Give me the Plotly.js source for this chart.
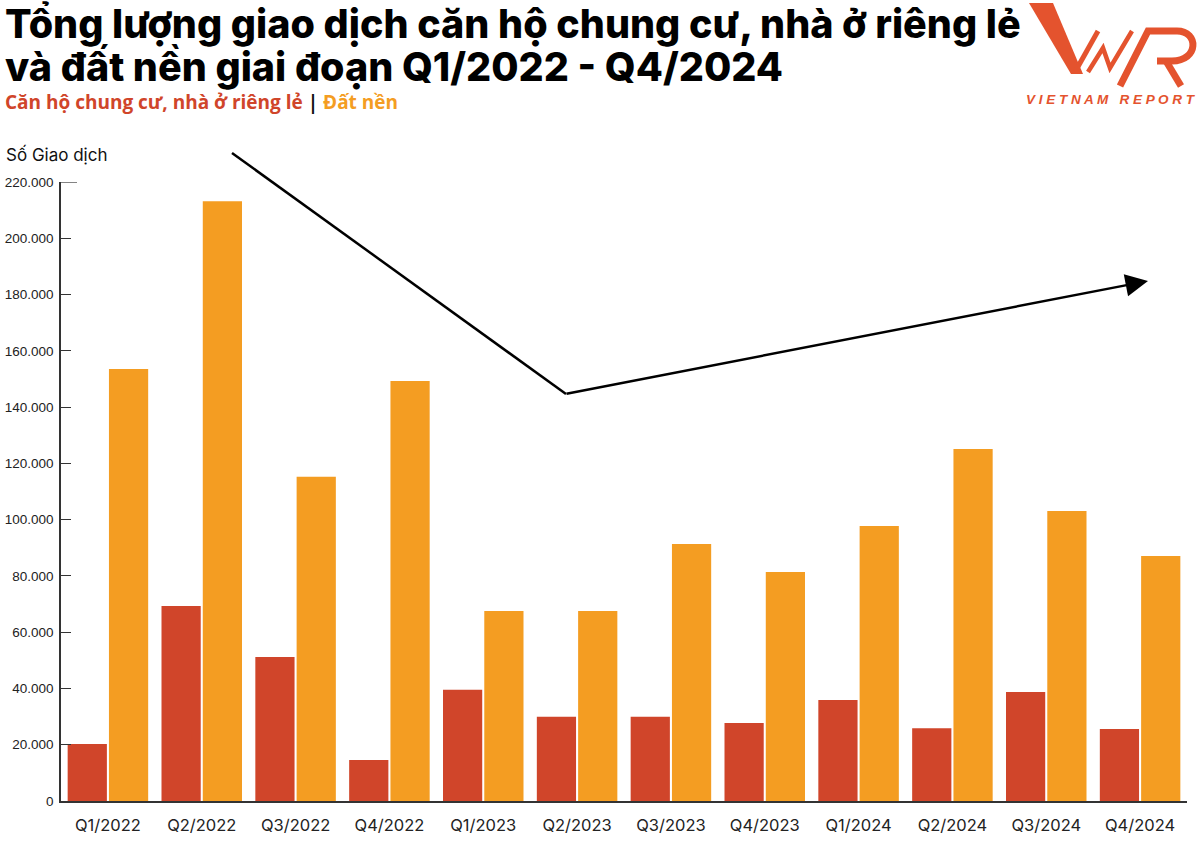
<!DOCTYPE html>
<html>
<head>
<meta charset="utf-8">
<script src="https://cdn.plot.ly/plotly-3.0.1.min.js"></script>
<style>
html,body{margin:0;padding:0;background:#fff;}
#chart{width:1200px;height:848px;}
</style>
</head>
<body>
<div id="chart"></div>
<script>
const quarters = ["Q1/2022","Q2/2022","Q3/2022","Q4/2022","Q1/2023","Q2/2023","Q3/2023","Q4/2023","Q1/2024","Q2/2024","Q3/2024","Q4/2024"];
const canHo = [20300, 69300, 51200, 14600, 39500, 29900, 29900, 27700, 35900, 25900, 38700, 25600];
const datNen = [153500, 213200, 115200, 149300, 67500, 67500, 91300, 81400, 97700, 125100, 103100, 87100];
const seriesNames = ["Căn hộ chung cư, nhà ở riêng lẻ", "Đất nền"];
const yTicks = [0,20000,40000,60000,80000,100000,120000,140000,160000,180000,200000,220000];

const RED = "#D0452A", ORANGE = "#F49D22", LOGO = "#E4532E";

// plot area geometry (pixels) used only to place decorations
const M = {l:61, r:13, t:182, b:47};
const PW = 1200 - M.l - M.r, PH = 848 - M.t - M.b;
const PX = px => (px - M.l) / PW;
const PY = py => (848 - M.b - py) / PH;
const pt = p => PX(p[0]).toFixed(5) + "," + PY(p[1]).toFixed(5);
const path = pts => pts.map((p,i) => (i ? "L" : "M") + pt(p)).join(" ");

const traces = [
  {type:"bar", name:seriesNames[0], x:quarters, y:canHo, marker:{color:RED}, hoverinfo:"x+y"},
  {type:"bar", name:seriesNames[1], x:quarters, y:datNen, marker:{color:ORANGE}, hoverinfo:"x+y"}
];

const TF = "Inter, 'Open Sans', sans-serif";

const logoShapes = [
  {type:"path", xref:"paper", yref:"paper", path: path([[1029,3],[1053,3],[1083,74],[1071,74]]) + " Z",
   fillcolor:LOGO, line:{width:0}},
  {type:"path", xref:"paper", yref:"paper", path: path([[1075,72],[1098,31]]), line:{color:LOGO, width:5}},
  {type:"path", xref:"paper", yref:"paper", path: path([[1088,72],[1103,48],[1110,68],[1132,31]]), line:{color:LOGO, width:4.5}},
  {type:"path", xref:"paper", yref:"paper",
   path: path([[1120,86],[1148,31],[1177,31]]) + " C" + pt([1199,31]) + " " + pt([1199,61]) + " " + pt([1172,61]) + " L" + pt([1157,61]),
   line:{color:LOGO, width:7}},
  {type:"path", xref:"paper", yref:"paper", path: path([[1166,61],[1181,86]]), line:{color:LOGO, width:7}}
];

const layout = {
  width:1200, height:848,
  paper_bgcolor:"#fff", plot_bgcolor:"#fff",
  margin:M,
  showlegend:false,
  barmode:"group", bargap:0.12, bargroupgap:0.05,
  separators:",.",
  font:{family:TF, color:"#111"},
  xaxis:{
    type:"category", range:[-0.5, 11.5], autorange:false, showgrid:false, zeroline:false,
    showline:true, linecolor:"#333", linewidth:1.5,
    ticks:"", tickfont:{family:TF, size:16.5, color:"#222"},
    ticklabelstandoff:8
  },
  yaxis:{
    range:[0,220000], autorange:false, tickvals:yTicks, tickformat:",d",
    showgrid:false, zeroline:false,
    showline:true, linecolor:"#333", linewidth:1.5,
    ticks:"inside", ticklen:10, tickcolor:"#333", tickwidth:1.2,
    tickfont:{family:"'Liberation Sans', Arial, sans-serif", size:13.5, color:"#222"},
    ticklabelstandoff:3
  },
  annotations:[
    {xref:"paper", yref:"paper", x:PX(3), y:PY(24), xanchor:"left", yanchor:"middle", showarrow:false,
     text:"Tổng lượng giao dịch căn hộ chung cư, nhà ở riêng lẻ", font:{family:TF, size:39.5, weight:800, color:"#000"}},
    {xref:"paper", yref:"paper", x:PX(3), y:PY(67), xanchor:"left", yanchor:"middle", showarrow:false,
     text:"và đất nền giai đoạn Q1/2022 - Q4/2024", font:{family:TF, size:39.5, weight:800, color:"#000"}},
    {xref:"paper", yref:"paper", x:PX(3), y:PY(102), xanchor:"left", yanchor:"middle", showarrow:false,
     text:"<span style='color:"+RED+"'>Căn hộ chung cư, nhà ở riêng lẻ</span> <span style='color:#111'>|</span> <span style='color:"+ORANGE+"'>Đất nền</span>",
     font:{family:"'Open Sans', sans-serif", size:19, weight:700, color:RED}},
    {xref:"paper", yref:"paper", x:PX(4), y:PY(154), xanchor:"left", yanchor:"middle", showarrow:false,
     text:"Số Giao dịch", font:{family:TF, size:17, color:"#111"}},
    {xref:"paper", yref:"paper", x:PX(1198), y:PY(99), xanchor:"right", yanchor:"middle", showarrow:false,
     text:"<i>V I E T N A M   R E P O R T</i>", font:{family:"'Liberation Sans', Arial, sans-serif", size:13.5, weight:700, color:LOGO}},
    {xref:"paper", yref:"paper", x:PX(1148), y:PY(281), ax:-583, ay:113,
     showarrow:true, arrowhead:2, arrowsize:1.8, arrowwidth:2.5, arrowcolor:"#000", text:""}
  ],
  shapes:[
    {type:"line", xref:"paper", yref:"paper", x0:PX(232), y0:PY(153), x1:PX(566), y1:PY(394),
     line:{color:"#000", width:2.5}},
    {type:"line", xref:"paper", yref:"y", x0:0, x1:PX(77), y0:220000, y1:220000,
     line:{color:"#333", width:1.2}}
  ].concat(logoShapes)
};

Plotly.newPlot("chart", traces, layout, {displayModeBar:false, responsive:false});
</script>
</body>
</html>
